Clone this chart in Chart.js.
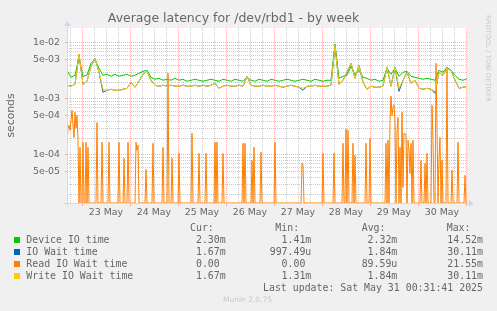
<!DOCTYPE html>
<html>
<head>
<meta charset="utf-8">
<title>Average latency for /dev/rbd1 - by week</title>
<script src="https://cdn.jsdelivr.net/npm/chart.js@4/dist/chart.umd.min.js"></script>
<style>
  html, body { margin: 0; padding: 0; background: #f0f0f0; }
  #wrap { position: relative; width: 497px; height: 311px; overflow: hidden; }
  #chart { position: absolute; left: 0; top: 0; }
  .t { position: absolute; white-space: pre; font: 9.9px "DejaVu Sans Mono", monospace; color: #666; line-height: 12px; }
  .sw { position: absolute; width: 6px; height: 6px; }
  #munin { position: absolute; left: 0; width: 495px; top: 295px; text-align: center;
           font: 7.5px "DejaVu Sans", sans-serif; line-height: 9px; color: #c8c8c8; }
  #rrd { position: absolute; left: 484px; top: 15px; writing-mode: vertical-rl; white-space: pre;
         font: 6.75px "DejaVu Sans", sans-serif; line-height: 7px; color: #c8c8c8; }
</style>
</head>
<body>
<div id="wrap">
  <canvas id="chart" width="497" height="311"></canvas>
  <div id="legend"></div>
  <div id="munin">Munin 2.0.75</div>
  <div id="rrd">RRDTOOL / TOBI OETIKER</div>
</div>
<script>
/* Munin "by week" latency graph for /dev/rbd1, log scale, 30-min samples. */

// hours since 22 May 00:00; plot runs 22 May 16:30 -> 31 May 00:30
const START_HOUR = 16.5;
const END_HOUR = 216.5;
const STEP_HOURS = 2;
const Y_MIN = 1.39e-5;
const Y_MAX = 1.85e-2;

// values in milliseconds, one every STEP_HOURS from START_HOUR
const DEVICE_IO_MS = [
  3.25, 2.44, 2.65, 5.55, 2.54, 2.65, 4.34, 5.12, 3.53, 2.65,
  2.76, 2.54, 2.76, 2.54, 2.65, 2.76, 2.54, 2.65, 2.88, 3.12,
  3.25, 2.44, 2.25, 2.34, 2.16, 2.25, 2.16, 2.34, 2.16, 2.25,
  2.07, 2.16, 2.25, 2.16, 2.07, 2.16, 2.25, 2.16, 2.07, 2.25,
  2.16, 2.07, 2.25, 2.16, 2.07, 2.44, 2.16, 2.07, 2.25, 2.16,
  2.07, 2.25, 2.16, 2.07, 2.16, 2.25, 2.16, 2.07, 2.16, 2.25,
  2.16, 2.07, 2.25, 2.16, 2.07, 2.16, 2.16, 9.48, 2.34, 2.54,
  2.65, 3.84, 2.76, 3.25, 2.44, 2.34, 2.16, 2.25, 2.07, 2.16,
  3.53, 2.76, 3.53, 2.54, 3.00, 3.12, 2.54, 2.44, 2.34, 2.25,
  2.34, 2.25, 2.16, 3.25, 3.00, 3.68, 3.25, 2.65, 2.25, 2.16,
  2.30
];
const IO_WAIT_MS = [
  1.76, 1.69, 1.83, 6.28, 1.83, 2.07, 3.84, 5.33, 3.00, 1.32,
  1.43, 1.49, 1.43, 1.43, 1.49, 1.55, 1.99, 1.62, 2.07, 2.76,
  3.12, 2.16, 1.76, 1.69, 1.76, 1.69, 1.76, 1.69, 1.69, 1.76,
  1.69, 1.69, 1.76, 1.69, 1.76, 1.69, 1.76, 1.91, 1.55, 1.69,
  1.76, 1.69, 1.69, 1.76, 1.69, 2.54, 1.76, 1.69, 1.69, 1.76,
  1.69, 1.69, 1.76, 1.69, 1.62, 1.69, 1.76, 1.69, 1.62, 1.43,
  1.69, 1.69, 1.76, 1.69, 1.69, 1.69, 1.76, 9.10, 1.83, 2.16,
  3.00, 4.34, 2.34, 4.00, 1.99, 1.49, 1.69, 1.62, 1.62, 1.69,
  3.68, 1.69, 3.68, 1.37, 2.16, 3.00, 1.91, 2.16, 1.55, 1.49,
  1.55, 1.49, 1.26, 3.00, 2.65, 3.53, 3.25, 2.16, 1.55, 1.62,
  1.67
];
const WRITE_IO_MS = [
  1.76, 1.69, 1.83, 6.28, 1.83, 2.07, 3.84, 5.33, 3.00, 1.49,
  1.43, 1.49, 1.43, 1.43, 1.49, 1.55, 1.99, 1.62, 2.07, 2.76,
  3.12, 2.16, 1.76, 1.69, 1.76, 1.69, 1.76, 1.69, 1.69, 1.76,
  1.69, 1.69, 1.76, 1.69, 1.76, 1.69, 1.76, 1.91, 1.55, 1.69,
  1.76, 1.69, 1.69, 1.76, 1.69, 2.54, 1.76, 1.69, 1.69, 1.76,
  1.69, 1.69, 1.76, 1.69, 1.62, 1.69, 1.76, 1.69, 1.62, 1.55,
  1.69, 1.69, 1.76, 1.69, 1.69, 1.69, 1.76, 9.10, 1.83, 2.16,
  3.00, 4.34, 2.34, 4.00, 1.99, 1.49, 1.69, 1.62, 1.62, 1.69,
  3.68, 1.69, 3.68, 1.55, 2.16, 3.00, 1.91, 2.16, 1.55, 1.49,
  1.55, 1.49, 1.37, 3.00, 2.65, 3.53, 3.25, 2.16, 1.55, 1.62,
  1.67
];

// reads are sparse spikes: explicit sample times (hours) and values (ms)
const READ_HOURS = [
  16.5, 17, 17.5, 18, 18.5, 19, 19.5, 20, 20.5, 21, 21.5, 22, 22.5,
  23, 23.5, 24, 24.5, 25, 25.5, 26, 26.5, 27, 27.5,
  31, 31.5, 32, 33.5, 34, 34.5, 37, 37.5, 38, 42, 42.5, 43,
  44.5, 45, 45.5, 46.5, 47, 47.5, 50.5, 51, 51.5, 52, 52.5,
  55.5, 56, 56.5, 59, 59.5, 60, 64, 64.5, 65, 66.5, 67, 67.5,
  68.5, 69, 69.5, 72, 72.5, 73, 78.5, 79, 79.5, 82, 82.5, 83,
  85.5, 86, 86.5, 90, 90.5, 91, 91.5, 92, 94, 94.5, 95,
  104, 104.5, 105, 105.5, 106, 108.5, 109, 109.5, 110, 110.5,
  113, 113.5, 114, 120, 120.5, 121, 133.5, 134, 134.5, 135,
  144, 144.5, 145, 149.5, 150, 150.5,
  154, 154.5, 155, 155.5, 156, 156.5, 157, 157.5,
  159, 159.5, 160, 160.5, 161, 165.5, 166, 166.5, 167.5, 168, 168.5,
  175.5, 176, 176.5, 177, 177.5, 178, 178.5, 179, 179.5, 180, 180.5,
  181, 181.5, 182, 182.5, 183, 183.5, 184, 184.5, 185, 185.5,
  186, 186.5, 187, 187.5, 188, 188.5, 189, 189.5, 190,
  193, 193.5, 194, 195, 195.5, 196, 196.5, 197,
  198.5, 199, 199.5, 200, 200.5, 201, 201.5, 202, 202.5, 203, 203.5, 204, 204.5,
  206, 206.5, 207, 208.5, 209, 209.5, 211.5, 212, 212.5, 215, 215.5, 216, 216.5
];
const READ_MS = [
  0.149, 0.300, 0.340, 0.276, 0.416, 0.628, 0.340, 0.205, 0.579, 0.300, 0.510, 0.183, 0,
  0.137, 0, 0, 0.169, 0, 0, 0.169, 0, 0.137, 0,
  0, 0.380, 0, 0, 0.169, 0, 0, 0.169, 0, 0, 0.169, 0,
  0, 0.0873, 0, 0, 0.169, 0, 0, 0.169, 0.121, 0.149, 0,
  0, 0.0556, 0, 0, 0.162, 0, 0, 0.137, 0, 0, 2.88, 0,
  0, 0.0873, 0, 0, 0.107, 0, 0, 0.244, 0, 0, 0.107, 0,
  0, 0.107, 0, 0, 0.169, 0, 0.169, 0, 0, 0.107, 0,
  0, 0.162, 0, 0.162, 0, 0, 0.080, 0, 0.137, 0,
  0, 0.112, 0, 0, 0.169, 0, 0, 0.0711, 0.065, 0,
  0, 0.107, 0, 0, 0.107, 0,
  0, 0.162, 0, 0, 0.288, 0, 0.276, 0,
  0, 0.162, 0, 0.0988, 0, 0, 0.162, 0, 0, 0.199, 0,
  0, 0.162, 0, 0.183, 0, 0.416, 1.12, 0.500, 0.711, 0.772, 0.416,
  0, 0.276, 0.471, 0, 0.137, 0, 0.579, 0.0265, 0.244, 0.244,
  0.225, 0, 0.183, 0.121, 0.047, 0.162, 0, 0.183, 0,
  0, 0.080, 0, 0, 0.0711, 0, 0.107, 0,
  0, 0.772, 0.183, 0, 0, 4.34, 0.313, 0, 0.091, 0.205, 0, 0.080, 0,
  0, 3.68, 0, 0, 0.054, 0, 0, 0.169, 0, 0, 0.0434, 0, 0
];

const SERIES_NAMES = ["Device IO time", "IO Wait time", "Read IO Wait time", "Write IO Wait time"];
const SERIES_COLORS = ["#00cc00", "#0066b3", "#ff8000", "#ffcc00"];
const CUR = ["2.30m", "1.67m", "0.00 ", "1.67m"];
const MIN = ["1.41m", "997.49u", "0.00 ", "1.31m"];
const AVG = ["2.32m", "1.84m", "89.59u", "1.84m"];
const MAX = ["14.52m", "30.11m", "21.55m", "30.11m"];
const LAST_UPDATE = "Last update: Sat May 31 00:31:41 2025";

const RED = "rgba(255,0,0,0.32)";
const GRAY = "rgba(140,140,140,0.45)";
const FONT = "#666";

// log axis has no zero: rrdtool clamps it to the floor, do the same
const pt = (h, ms) => ({ x: h, y: ms > 0 ? ms / 1000 : Y_MIN });
const regular = (arr) => arr.map((ms, i) => pt(START_HOUR + i * STEP_HOURS, ms));

function line(label, color, data, order) {
  return { label, data, borderColor: color, backgroundColor: color, borderWidth: 1,
           pointRadius: 0, tension: 0, order };
}

const frame = {
  id: "frame",
  beforeDraw(chart) {
    const { ctx, chartArea: a } = chart;
    ctx.save();
    ctx.fillStyle = "#fff";
    ctx.fillRect(a.left, a.top, a.right - a.left, a.bottom - a.top);
    ctx.restore();
  },
  afterDatasetsDraw(chart) {
    const { ctx, chartArea: a } = chart;
    const x0 = a.left + 0.5, y0 = a.bottom + 0.5;
    ctx.save();
    ctx.strokeStyle = ctx.fillStyle = "#cfd6f8";
    ctx.lineWidth = 1;
    ctx.beginPath();
    ctx.moveTo(a.left - 4, y0); ctx.lineTo(a.right + 3, y0);
    ctx.moveTo(x0, a.bottom + 4); ctx.lineTo(x0, a.top - 2);
    ctx.stroke();
    ctx.beginPath();
    ctx.moveTo(a.right + 7, y0); ctx.lineTo(a.right + 2, y0 - 3.5); ctx.lineTo(a.right + 2, y0 + 3.5);
    ctx.closePath(); ctx.fill();
    ctx.beginPath();
    ctx.moveTo(x0, a.top - 7); ctx.lineTo(x0 - 3.5, a.top - 2); ctx.lineTo(x0 + 3.5, a.top - 2);
    ctx.closePath(); ctx.fill();
    ctx.restore();
  },
};

new Chart(document.getElementById("chart"), {
  type: "line",
  data: {
    datasets: [
      line(SERIES_NAMES[0], SERIES_COLORS[0], regular(DEVICE_IO_MS), 4),
      line(SERIES_NAMES[1], SERIES_COLORS[1], regular(IO_WAIT_MS), 3),
      line(SERIES_NAMES[2], SERIES_COLORS[2], READ_HOURS.map((h, i) => pt(h, READ_MS[i])), 2),
      line(SERIES_NAMES[3], SERIES_COLORS[3], regular(WRITE_IO_MS), 1),
    ],
  },
  options: {
    responsive: false,
    animation: false,
    devicePixelRatio: 1,
    events: [],
    layout: { padding: { left: 0, right: 30, top: 0, bottom: 88 } },
    plugins: {
      legend: { display: false },
      tooltip: { enabled: false },
      title: {
        display: true,
        text: "Average latency for /dev/rbd1 - by week",
        color: FONT,
        font: { family: "DejaVu Sans", size: 12.5, weight: "normal", lineHeight: 1.2 },
        padding: { top: 11.5, bottom: 1.5 },
      },
    },
    scales: {
      x: {
        type: "linear",
        min: START_HOUR,
        max: END_HOUR,
        afterFit: (s) => { s.height = 20; },
        afterBuildTicks: (s) => {
          const t = [];
          for (let h = 18; h <= 216; h += 6) t.push({ value: h });
          s.ticks = t;
        },
        ticks: {
          autoSkip: false, maxRotation: 0, minRotation: 0, padding: 1,
          color: FONT, font: { family: "DejaVu Sans", size: 9.4 },
          callback: (v) => (v % 24 === 12 ? `${22 + Math.floor(v / 24)} May` : ""),
        },
        grid: {
          color: (c) => (c.tick && c.tick.value % 24 === 0 ? RED : GRAY),
          tickColor: (c) => (c.tick && c.tick.value % 24 === 0 ? RED : "rgba(0,0,0,0)"),
          tickLength: 3,
          lineWidth: 1,
        },
        border: { display: false, dash: [1, 1] },
      },
      y: {
        type: "logarithmic",
        min: Y_MIN,
        max: Y_MAX,
        afterFit: (s) => { s.width = 67; },
        afterBuildTicks: (s) => {
          const t = [];
          for (let e = -5; e <= -2; e++) {
            for (let m = 1; m <= 9; m++) {
              const v = m * Math.pow(10, e);
              if (v >= Y_MIN && v <= Y_MAX) t.push({ value: v, m, e });
            }
          }
          s.ticks = t;
        },
        ticks: {
          autoSkip: false, padding: 5,
          color: FONT, font: { family: "DejaVu Sans", size: 9.4 },
          callback: (v, i, ticks) => {
            const k = ticks[i];
            return k.m === 1 || k.m === 5 ? `${k.m}e-${String(-k.e).padStart(2, "0")}` : "";
          },
        },
        grid: {
          color: (c) => (c.tick && (c.tick.m === 1 || c.tick.m === 5) ? RED : GRAY),
          tickColor: (c) => (c.tick && (c.tick.m === 1 || c.tick.m === 5) ? RED : "rgba(0,0,0,0)"),
          tickLength: 2,
          lineWidth: 1,
        },
        border: { display: false, dash: [1, 1] },
        title: {
          display: true, text: "seconds", color: FONT,
          font: { family: "DejaVu Sans", size: 10.8, lineHeight: 1.2 },
          padding: { top: 4.7, bottom: 0 },
        },
      },
    },
  },
  plugins: [frame],
});

// legend table under the plot, rrdtool style
const legend = document.getElementById("legend");
function text(str, left, top, right) {
  const d = document.createElement("div");
  d.className = "t";
  d.textContent = str;
  d.style.top = top + "px";
  if (right !== undefined) d.style.right = right + "px"; else d.style.left = left + "px";
  legend.appendChild(d);
}
const HEAD_LEFT = [190, 275.3, 361.7, 446.7];
const COL_RIGHT = [271.3, 185.7, 99.7, 14];
["Cur:", "Min:", "Avg:", "Max:"].forEach((h, i) => text(h, HEAD_LEFT[i], 221.9));
SERIES_NAMES.forEach((name, r) => {
  const top = 233.9 + r * 12;
  const sw = document.createElement("div");
  sw.className = "sw";
  sw.style.left = "14px";
  sw.style.top = (237 + r * 12) + "px";
  sw.style.background = SERIES_COLORS[r];
  legend.appendChild(sw);
  text(name, 26.3, top);
  [CUR, MIN, AVG, MAX].forEach((col, c) => text(col[r], 0, top, COL_RIGHT[c]));
});
text(LAST_UPDATE, 0, 281.9, 14);
</script>
</body>
</html>
